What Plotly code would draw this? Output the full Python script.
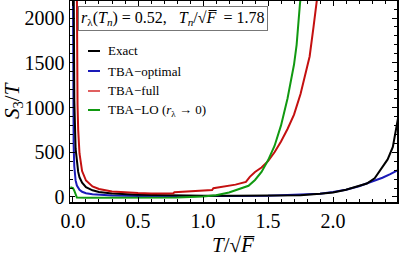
import plotly.graph_objects as go

# ---- data ----
exact_x = [0.004, 0.005, 0.01, 0.02, 0.03, 0.04, 0.05, 0.07, 0.1, 0.15, 0.2, 0.3, 0.5, 0.75, 1.0, 1.25, 1.5,
           1.75, 1.9, 2.0, 2.1, 2.2, 2.26, 2.32, 2.38, 2.42, 2.46, 2.49, 2.5]
exact_y = [2700, 2140, 1080, 540, 370, 280, 220, 160, 110, 75, 55, 38, 24, 17, 14, 13, 14,
           20, 35, 50, 80, 120, 150, 210, 330, 420, 560, 780, 880]

opt_x = [-0.002, 0.0, 0.005, 0.01, 0.02, 0.03, 0.05, 0.07, 0.1, 0.15, 0.2, 0.3, 0.5, 0.75, 1.0, 1.25, 1.5,
         1.75, 1.9, 2.0, 2.1, 2.2, 2.26, 2.32, 2.38, 2.44, 2.5]
opt_y = [3000, 2100, 580, 340, 185, 128, 80, 58, 42, 30, 23, 17, 12, 10, 10, 11, 14,
         22, 35, 55, 80, 120, 150, 180, 215, 255, 300]

full_x = [0.026, 0.028, 0.03, 0.035, 0.04, 0.05, 0.07, 0.1, 0.15, 0.2, 0.3, 0.4, 0.5, 0.6, 0.7, 0.77,
          0.78, 0.9, 1.0, 1.07, 1.08, 1.15, 1.25, 1.33, 1.36, 1.4, 1.45, 1.5, 1.55, 1.6, 1.65, 1.7,
          1.75, 1.8, 1.82, 1.85, 1.88]
full_y = [3300, 2215, 1665, 1030, 750, 486, 290, 184, 118, 89, 62, 50, 44, 40, 38, 38,
          52, 62, 70, 78, 98, 112, 138, 168, 225, 280, 330, 400, 500, 620, 760, 920,
          1150, 1450, 1570, 1900, 2250]

lo_x = [-0.02, 0.0, 0.01, 0.02, 0.03, 0.1, 0.5, 0.8, 1.0, 1.1, 1.2, 1.3, 1.35, 1.4, 1.45, 1.5, 1.55,
        1.6, 1.65, 1.7, 1.72, 1.745, 1.76]
lo_y = [110, 100, 70, 20, -6, -8, -8, -5, 5, 20, 50, 95, 125, 190, 280, 410, 570,
        800, 1100, 1480, 1700, 2150, 2350]

labels = ["Exact", "TBA\u2212optimal", "TBA\u2212full", "TBA\u2212LO (<i>r</i><sub>\u03bb</sub> \u2192 0)"]
colors = ["#000000", "#1a1ab8", "#c41010", "#119911"]
legend_colors = ["#000000", "#1a1ab8", "#e06060", "#119911"]

x_ticks = [0.0, 0.5, 1.0, 1.5, 2.0]
y_ticks = [0, 500, 1000, 1500, 2000]

FONT = "Liberation Serif, Times New Roman, serif"

fig = go.Figure()
for xs, ys, c in [(opt_x, opt_y, colors[1]), (exact_x, exact_y, colors[0]),
                  (full_x, full_y, colors[2]), (lo_x, lo_y, colors[3])]:
    fig.add_trace(go.Scatter(x=xs, y=ys, mode="lines", line=dict(color=c, width=2),
                             showlegend=False, hoverinfo="skip"))

W, H = 399, 261
L, R, T, B = 70, 2, 1, 59
pw, ph = W - L - R, H - T - B

def px2paper(px, py):
    return (px - L) / pw, (H - B - py) / ph

axis_common = dict(showgrid=False, zeroline=False, showline=True, linecolor="black", linewidth=1.5,
                   mirror="allticks", ticks="inside", ticklen=5, tickwidth=1, tickcolor="black",
                   automargin=False,
                   tickfont=dict(family=FONT, size=20, color="black"))

fig.update_xaxes(range=[-0.023, 2.492], tickvals=x_ticks, ticktext=[f"{v:.1f}" for v in x_ticks],
                 minor=dict(dtick=0.1, ticks="inside", ticklen=3, tickcolor="black"), **axis_common)
fig.update_yaxes(range=[-56, 2190], tickvals=y_ticks, ticktext=[str(v) for v in y_ticks],
                 minor=dict(dtick=100, ticks="inside", ticklen=3, tickcolor="black"), **axis_common)

annotations = []
shapes = []
# info box
bx, by = px2paper(172.5, 18.5)
annotations.append(dict(
    x=bx, y=by, xref="paper", yref="paper", showarrow=False, xanchor="center", yanchor="middle",
    text="<i>r</i><sub>\u03bb</sub>(<i>T</i><sub><i>n</i></sub>) = 0.52,\u2002 <i>T</i><sub><i>n</i></sub>/\u221a<i>F\u0305</i>\u2009 = 1.78",
    font=dict(family=FONT, size=16, color="black"), bordercolor="#777777", borderwidth=1,
    borderpad=2, bgcolor="white"))

# custom legend
leg_y = [51, 71, 91, 110]
for lab, col, yy in zip(labels, legend_colors, leg_y):
    x0, y0 = px2paper(88, yy)
    x1, _ = px2paper(100, yy)
    shapes.append(dict(type="line", xref="paper", yref="paper", x0=x0, x1=x1, y0=y0, y1=y0,
                       line=dict(color=col, width=2)))
    tx, _ = px2paper(106, yy)
    annotations.append(dict(x=tx, y=y0, xref="paper", yref="paper", xanchor="left", yanchor="middle",
                            showarrow=False, text=lab, font=dict(family=FONT, size=13, color="black")))

# axis titles
ax, ay = px2paper(13, 101)
annotations.append(dict(x=ax, y=ay, xref="paper", yref="paper", showarrow=False, textangle=-90,
                        xanchor="center", yanchor="middle",
                        text="<i>S</i><sub>3</sub>/<i>T</i>", font=dict(family=FONT, size=21, color="black")))
tx, ty = px2paper(234, 245)
annotations.append(dict(x=tx, y=ty, xref="paper", yref="paper", showarrow=False,
                        xanchor="center", yanchor="middle",
                        text="<i>T</i>/\u221a<i>F\u0305</i>", font=dict(family=FONT, size=21, color="black")))

fig.update_layout(template="none", width=W, height=H, margin=dict(l=L, r=R, t=T, b=B, pad=0),
                  paper_bgcolor="white", plot_bgcolor="white",
                  annotations=annotations, shapes=shapes, showlegend=False)

fig.write_html("out.html", config={"displayModeBar": False, "staticPlot": True},
               post_script="document.body.style.margin='0';document.body.style.overflow='hidden';")
